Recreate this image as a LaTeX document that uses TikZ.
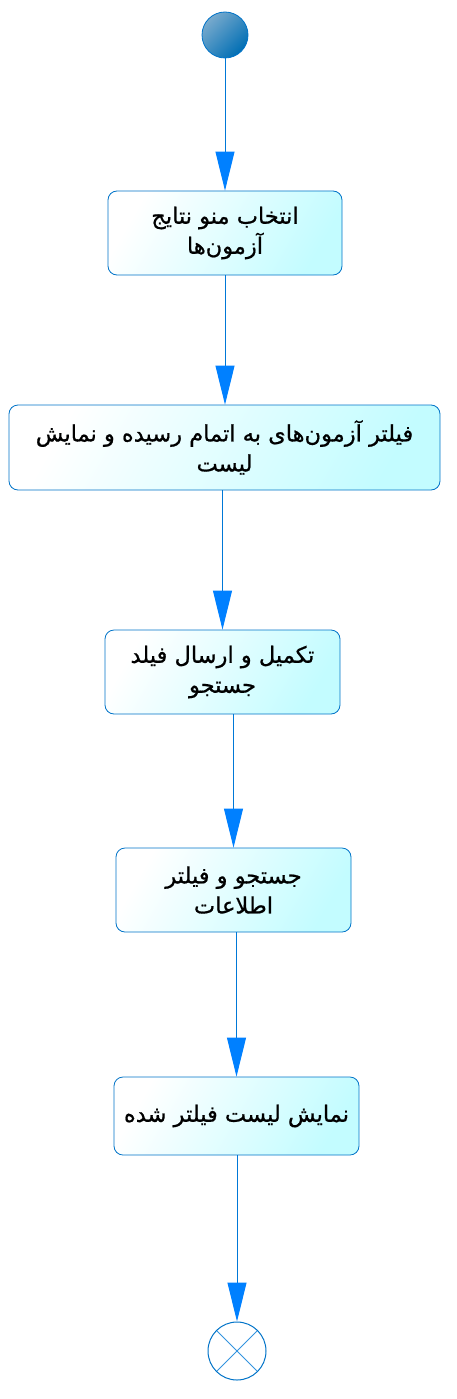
\documentclass[tikz,border=0pt]{standalone}
\usepackage{fontspec}
\usetikzlibrary{arrows.meta}
\TeXXeTstate=1
\newfontfamily\arabicfont[Script=Arabic,FakeBold=0.8]{DejaVu Sans}
\definecolor{linecol}{RGB}{0,120,215}
\definecolor{tipcol}{RGB}{0,128,255}
\definecolor{bordercol}{RGB}{0,115,200}
\definecolor{fillcyan}{RGB}{195,252,255}
\definecolor{ballhi}{RGB}{120,170,205}
\definecolor{balllo}{RGB}{0,110,180}
\tikzset{
  actbox/.style={draw=bordercol, line width=0.8pt, rounded corners=9pt,
    top color=white, bottom color=fillcyan, shading angle=60,
    inner sep=0pt, align=center, font=\arabicfont\fontsize{22.5}{30}\selectfont},
  flow/.style={draw=linecol, line width=1pt, -{Triangle[length=39pt,width=19pt,color=tipcol]}},
  startnode/.style={circle, draw=bordercol, line width=0.8pt, minimum size=46pt, inner sep=0pt,
    top color=ballhi, bottom color=balllo, shading angle=45},
  endnode/.style={circle, draw=bordercol, line width=1pt, minimum size=58pt, inner sep=0pt, fill=white,
    path picture={\draw[linecol!80, line width=0.9pt]
      (path picture bounding box.north west) -- (path picture bounding box.south east)
      (path picture bounding box.north east) -- (path picture bounding box.south west);}}
}
\begin{document}
\begin{tikzpicture}[x=1pt,y=-1pt]
\useasboundingbox (0,0) rectangle (456,1399);
\node[startnode] (start) at (225,35) {};
\node[actbox, minimum width=234pt, minimum height=84pt] (b1) at (225,233)
  {\beginR انتخاب منو نتایج\endR\\\beginR آزمون‌ها\endR};
\node[actbox, minimum width=431pt, minimum height=85pt] (b2) at (224.5,447.5)
  {\beginR فیلتر آزمون‌های به اتمام رسیده و نمایش\endR\\\beginR لیست\endR};
\node[actbox, minimum width=235pt, minimum height=84pt] (b3) at (222.5,672)
  {\beginR تکمیل و ارسال فیلد\endR\\\beginR جستجو\endR};
\node[actbox, minimum width=235pt, minimum height=84pt] (b4) at (233.5,890)
  {\beginR جستجو و فیلتر\endR\\\beginR اطلاعات\endR};
\node[actbox, minimum width=245pt, minimum height=78pt] (b5) at (236.5,1116)
  {\beginR نمایش لیست فیلتر شده\endR};
\node[endnode] (end) at (237,1351) {};
\draw[flow] (start.south) -- (b1.north);
\draw[flow] (b1.south) -- (b1.south |- b2.north);
\draw[flow] (b2.south -| b3.north) -- (b3.north);
\draw[flow] (b3.south -| b4.north) -- (b4.north);
\draw[flow] (b4.south -| b5.north) -- (b5.north);
\draw[flow] (b5.south -| end.north) -- (end.north);
\end{tikzpicture}
\end{document}
